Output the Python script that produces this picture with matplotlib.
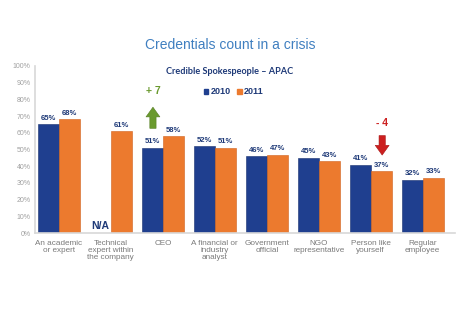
import matplotlib
matplotlib.use("Agg")
import matplotlib.pyplot as plt
import numpy as np
from matplotlib.patches import Patch

categories = ["An academic\nor expert", "Technical\nexpert within\nthe company", "CEO",
              "A financial or\nindustry\nanalyst", "Government\nofficial", "NGO\nrepresentative",
              "Person like\nyourself", "Regular\nemployee"]
values_2010 = [65, None, 51, 52, 46, 45, 41, 32]
values_2011 = [68, 61, 58, 51, 47, 43, 37, 33]
yticks = [0, 10, 20, 30, 40, 50, 60, 70, 80, 90, 100]

plt.rcParams["font.family"] = ["Liberation Sans", "DejaVu Sans"]

blue = "#1f3f8f"
orange = "#ec7a2e"
navy = "#1f3a78"
narrow = ["Liberation Sans Narrow", "Liberation Sans", "DejaVu Sans"]

fig = plt.figure(figsize=(4.6, 3.25), dpi=100)
fig.patch.set_facecolor("white")
ax = fig.add_axes([0.076, 0.283, 0.913, 0.514])

x = np.arange(len(categories))
w = 0.4
for i, (a, b) in enumerate(zip(values_2010, values_2011)):
    if a is not None:
        ax.bar(x[i] - w / 2, a, w, color=blue, edgecolor="#16306e", linewidth=0.4, zorder=2)
        ax.text(x[i] - w / 2, a + 1.5, f"{a}%", ha="center", va="bottom",
                fontsize=5.5, color=navy, fontweight="bold", family=narrow)
    else:
        ax.text(x[i] - w / 2, 1.0, "N/A", ha="center", va="bottom",
                fontsize=7.5, color=navy, fontweight="bold")
    ax.bar(x[i] + w / 2, b, w, color=orange, edgecolor="#d0621c", linewidth=0.4, zorder=2)
    ax.text(x[i] + w / 2, b + 1.5, f"{b}%", ha="center", va="bottom",
            fontsize=5.5, color=navy, fontweight="bold", family=narrow)

ax.set_xlim(-0.46, 7.62)
ax.set_ylim(0, 100)
ax.set_yticks(yticks)
ax.set_yticklabels([f"{t}%" for t in yticks], fontsize=5, color="#a0a0a0")
ax.set_xticks(x)
ax.set_xticklabels(categories, fontsize=5.9, color="#7a7a7a", linespacing=1.05)
ax.tick_params(axis="both", length=0, pad=3)
ax.tick_params(axis="x", pad=5)
for s in ["top", "right"]:
    ax.spines[s].set_visible(False)
ax.spines["left"].set_color("#d8d8d8")
ax.spines["bottom"].set_color("#d8d8d8")
ax.spines["left"].set_linewidth(1.2)
ax.spines["bottom"].set_linewidth(1.2)

# Change arrows: CEO up, person like yourself down
arrow_style = "simple,head_width=1.0,head_length=0.7,tail_width=0.45"
ax.annotate("", xy=(1.81, 77), xytext=(1.81, 61),
            arrowprops=dict(arrowstyle=arrow_style, color="#6a9a2e", ec="#557d22", lw=0.4))
ax.text(1.81, 82, "+ 7", ha="center", va="bottom", fontsize=7.5, color="#6a9a2e", fontweight="bold")
ax.annotate("", xy=(6.22, 45), xytext=(6.22, 60),
            arrowprops=dict(arrowstyle=arrow_style, color="#cc1f1f", ec="#a81515", lw=0.4))
ax.text(6.22, 63, "- 4", ha="center", va="bottom", fontsize=7.5, color="#cc1f1f", fontweight="bold")

fig.text(0.5, 0.862, "Credentials count in a crisis", ha="center", va="center",
         fontsize=10, color="#3f7fc0", family=narrow)
fig.text(0.5, 0.781, "Credible Spokespeople \u2013 APAC", ha="center", va="center",
         fontsize=6.6, color=navy, fontweight="bold", family=["Lato", "DejaVu Sans"])

leg = fig.legend(handles=[Patch(color=blue, label="2010"), Patch(color=orange, label="2011")],
                 loc="center", bbox_to_anchor=(0.508, 0.717), ncol=2, frameon=False,
                 handlelength=0.5, handleheight=0.5, handletextpad=0.25,
                 columnspacing=0.7, prop={"weight": "bold", "size": 6.5})
for t in leg.get_texts():
    t.set_color(navy)

fig.savefig("out.png", dpi=100, facecolor="white")
